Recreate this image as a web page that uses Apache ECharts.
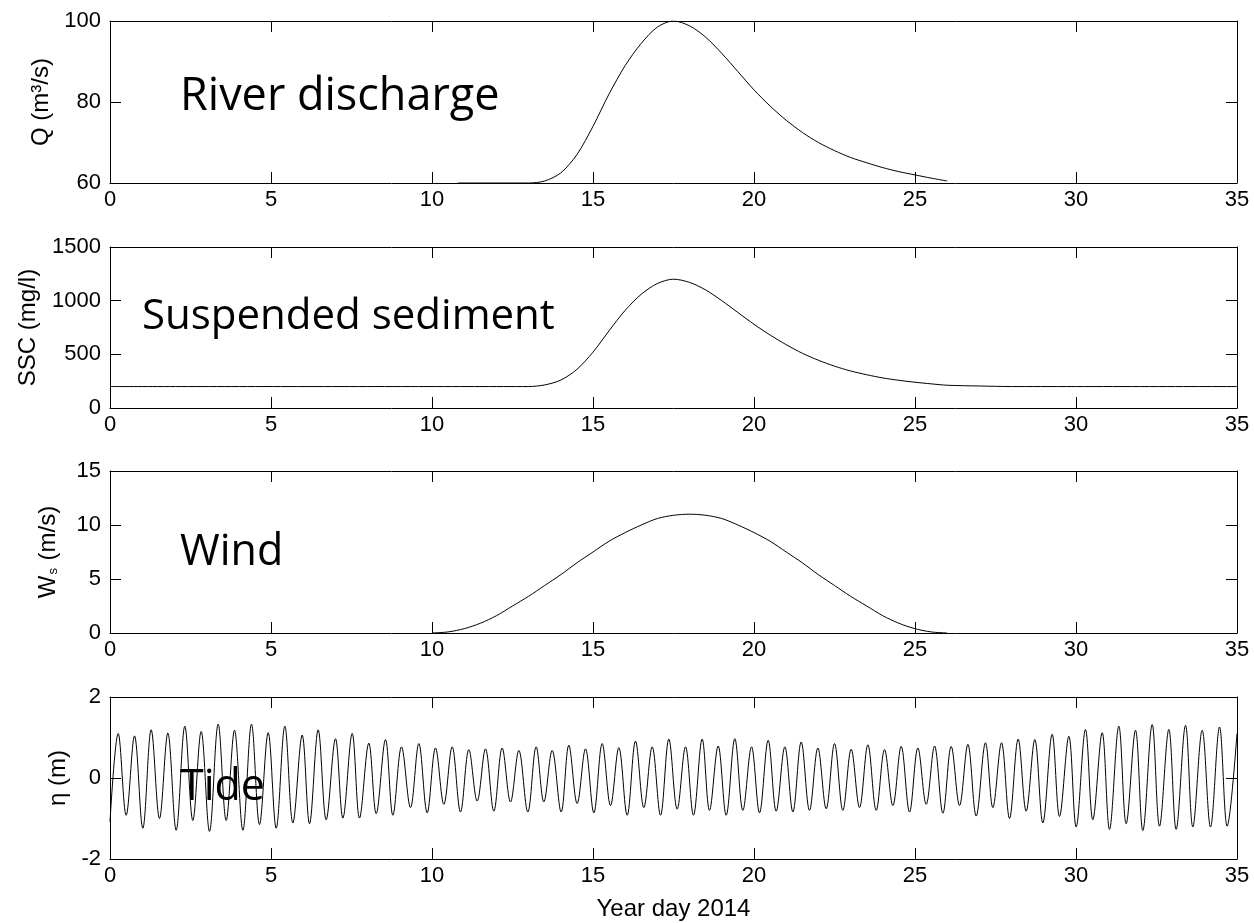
<!DOCTYPE html>
<html>
<head>
<meta charset="utf-8">
<title>Forcing time series</title>
<script src="https://cdn.jsdelivr.net/npm/echarts@6.0.0/dist/echarts.min.js"></script>
<style>
  html, body { margin: 0; padding: 0; background: #fff; }
  #main { width: 1254px; height: 923px; }
</style>
</head>
<body>
<div id="main"></div>
<script>
// ---- data (x = year day 2014) ----
var qDays = [10.8, 11.5, 12, 12.5, 13, 13.5, 14, 14.5, 15, 15.5, 16, 16.5, 17, 17.5, 18, 18.5, 19, 19.5, 20, 20.5, 21, 21.5, 22, 22.5, 23, 23.5, 24, 24.5, 25, 25.5, 26];
var qVals = [60, 60, 60, 60, 60, 60.5, 62.5, 67, 74, 82, 89, 94.5, 98.5, 100, 98.8, 96, 92, 87.5, 83, 79, 75.5, 72.5, 70, 68, 66.3, 65, 63.8, 62.8, 62, 61.2, 60.5];

var sscDays = [0, 13, 13.5, 14, 14.5, 15, 15.5, 16, 16.5, 17, 17.5, 18, 18.5, 19, 19.5, 20, 20.5, 21, 21.5, 22, 22.5, 23, 23.5, 24, 24.5, 25, 25.5, 26, 27, 28, 35];
var sscVals = [200, 200, 215, 260, 360, 520, 720, 910, 1060, 1160, 1200, 1170, 1100, 1000, 890, 780, 680, 590, 510, 445, 390, 345, 310, 280, 258, 240, 225, 212, 205, 200, 200];

var windDays = [10, 10.5, 11, 11.5, 12, 12.5, 13, 13.5, 14, 14.5, 15, 15.5, 16, 16.5, 17, 17.5, 18, 18.5, 19, 19.5, 20, 20.5, 21, 21.5, 22, 22.5, 23, 23.5, 24, 24.5, 25, 25.5, 26];
var windVals = [0, 0.1, 0.4, 0.9, 1.6, 2.5, 3.4, 4.4, 5.4, 6.5, 7.5, 8.5, 9.3, 10.0, 10.6, 10.9, 11, 10.9, 10.6, 10.0, 9.3, 8.5, 7.5, 6.5, 5.4, 4.4, 3.4, 2.5, 1.6, 0.9, 0.4, 0.1, 0];

// tide: successive highs and lows
var tideDays = [0, 0.254, 0.502, 0.761, 1.019, 1.279, 1.537, 1.796, 2.055, 2.324, 2.572, 2.831, 3.090, 3.359, 3.608, 3.866, 4.126, 4.394, 4.643, 4.912,
  5.161, 5.430, 5.679, 5.968, 6.196, 6.465, 6.714, 7.003, 7.232, 7.521, 7.749, 8.038, 8.267, 8.556, 8.785,
  9.053, 9.332, 9.591, 9.850, 10.109, 10.368, 10.626, 10.885, 11.144, 11.403, 11.661, 11.920, 12.179, 12.438, 12.697, 12.976,
  13.235, 13.473, 13.732, 14.011, 14.249, 14.508, 14.767, 15.026, 15.285, 15.544, 15.802, 16.061, 16.320, 16.579, 16.838, 17.097,
  17.355, 17.614, 17.873, 18.12, 18.390, 18.618, 18.887, 19.136, 19.405, 19.654, 19.923, 20.171, 20.440, 20.689, 20.958, 21.207,
  21.465, 21.724, 21.983, 22.242, 22.501, 22.760, 23.018, 23.277, 23.536, 23.795, 24.054, 24.313, 24.571, 24.830, 25.089, 25.348,
  25.607, 25.866, 26.124, 26.383, 26.642, 26.90, 27.189, 27.417, 27.686, 27.935, 28.204, 28.452, 28.721, 28.970, 29.260, 29.487,
  29.778, 30.005, 30.295, 30.522, 30.813, 31.040, 31.330, 31.558, 31.848, 32.075, 32.366, 32.593, 32.883, 33.110, 33.401, 33.628,
  33.919, 34.177, 34.457, 34.694, 35];
var tideVals = [-1.08, 1.10, -0.92, 1.04, -1.24, 1.19, -1.00, 1.11, -1.29, 1.28, -1.05, 1.15, -1.32, 1.33, -1.05, 1.18, -1.29, 1.33, -1.15, 1.12,
  -1.24, 1.28, -1.11, 1.06, -1.13, 1.19, -1.03, 0.97, -0.99, 1.10, -0.99, 0.86, -0.88, 0.95, -0.92,
  0.77, -0.73, 0.85, -0.86, 0.74, -0.65, 0.77, -0.84, 0.70, -0.57, 0.72, -0.82, 0.74, -0.59, 0.68, -0.84,
  0.77, -0.59, 0.68, -0.84, 0.81, -0.63, 0.72, -0.86, 0.85, -0.68, 0.75, -0.92, 0.91, -0.73, 0.77, -0.92,
  0.96, -0.77, 0.77, -0.92, 0.96, -0.80, 0.79, -0.92, 0.97, -0.80, 0.77, -0.86, 0.93, -0.82, 0.77, -0.84,
  0.89, -0.80, 0.74, -0.76, 0.85, -0.80, 0.71, -0.73, 0.82, -0.80, 0.70, -0.68, 0.78, -0.84, 0.74, -0.65,
  0.79, -0.87, 0.78, -0.68, 0.83, -0.94, 0.87, -0.73, 0.87, -1.00, 0.96, -0.82, 0.95, -1.11, 1.08, -0.95,
  1.03, -1.21, 1.20, -1.03, 1.12, -1.27, 1.28, -1.13, 1.18, -1.30, 1.32, -1.19, 1.20, -1.27, 1.30, -1.21,
  1.18, -1.21, 1.26, -1.19, 1.10];

// axis limits [min, max, step]
var xLim = [0, 35, 5];
var qLim = [60, 100, 20];
var sscLim = [0, 1500, 500];
var windLim = [0, 15, 5];
var tideLim = [-2, 2, 2];

var labels = ['River discharge', 'Suspended sediment', 'Wind', 'Tide'];

function pairs(xs, ys) {
  return xs.map(function (x, i) { return [x, ys[i]]; });
}

var chart = echarts.init(document.getElementById('main'));

var font = 'Liberation Sans';
var tickFont = 22;
var nameFont = 24;
var panels = [
  { top: 21, height: 162, lim: qLim, name: 'Q (m³/s)', gap: 57, data: pairs(qDays, qVals), smooth: 0.3 },
  { top: 247, height: 161, lim: sscLim, name: 'SSC (mg/l)', gap: 70, data: pairs(sscDays, sscVals), smooth: 0.3 },
  { top: 471, height: 162, lim: windLim, name: '{n|W}{s|s}{n| (m/s)}', gap: 50, data: pairs(windDays, windVals), smooth: 0.3 },
  { top: 697, height: 162, lim: tideLim, name: 'η (m)', gap: 36, data: pairs(tideDays, tideVals), smooth: 0.36 }
];

var grid = [], xAxis = [], yAxis = [], series = [];
var lineStyle = { color: '#000', width: 1 };
var tick = { inside: true, length: 11, lineStyle: { color: '#000', width: 1 } };
var plain = function (v) { return String(v); };

panels.forEach(function (p, i) {
  grid.push({ left: 110, right: 17, top: p.top, height: p.height });
  // bottom / left axes carry the labels
  xAxis.push({
    type: 'value', gridIndex: i, position: 'bottom',
    min: xLim[0], max: xLim[1], interval: xLim[2],
    axisLine: { onZero: false, lineStyle: lineStyle },
    axisTick: tick, splitLine: { show: false },
    axisLabel: { color: '#000', fontFamily: font, fontSize: tickFont, margin: 6, formatter: plain },
    name: i === 3 ? 'Year day 2014' : '',
    nameLocation: 'middle', nameGap: 38,
    nameTextStyle: { color: '#000', fontFamily: font, fontSize: nameFont }
  });
  // top axis just closes the box
  xAxis.push({
    type: 'value', gridIndex: i, position: 'top',
    min: xLim[0], max: xLim[1], interval: xLim[2],
    axisLine: { onZero: false, lineStyle: lineStyle },
    axisTick: tick, axisLabel: { show: false }, splitLine: { show: false }
  });
  yAxis.push({
    type: 'value', gridIndex: i, position: 'left',
    min: p.lim[0], max: p.lim[1], interval: p.lim[2],
    axisLine: { onZero: false, lineStyle: lineStyle },
    axisTick: tick, splitLine: { show: false },
    axisLabel: { color: '#000', fontFamily: font, fontSize: tickFont, margin: 9, formatter: plain },
    name: p.name, nameLocation: 'middle', nameGap: p.gap, nameRotate: 90,
    nameTextStyle: {
      color: '#000', fontFamily: font, fontSize: nameFont,
      rich: {
        n: { fontFamily: font, fontSize: nameFont, color: '#000' },
        s: { fontFamily: font, fontSize: 13, color: '#000', verticalAlign: 'bottom', padding: [9, 1, 0, 1] }
      }
    }
  });
  yAxis.push({
    type: 'value', gridIndex: i, position: 'right',
    min: p.lim[0], max: p.lim[1], interval: p.lim[2],
    axisLine: { onZero: false, lineStyle: lineStyle },
    axisTick: tick, axisLabel: { show: false }, splitLine: { show: false }
  });
  series.push({
    type: 'line', xAxisIndex: i * 2, yAxisIndex: i * 2,
    data: p.data, showSymbol: false, smooth: p.smooth,
    lineStyle: { color: '#000', width: 1 }, clip: true, silent: true
  });
});

var labelPos = [[180, 97], [142, 317], [180, 553], [180, 788]];
var labelSize = [45, 42, 43, 43];
var graphic = labels.map(function (t, i) {
  return {
    type: 'text', x: labelPos[i][0], y: labelPos[i][1], z: 100,
    style: { text: t, font: labelSize[i] + 'px "Open Sans"', fill: '#000', verticalAlign: 'middle', align: 'left' }
  };
});

chart.setOption({
  backgroundColor: '#fff',
  animation: false,
  grid: grid,
  xAxis: xAxis,
  yAxis: yAxis,
  series: series,
  graphic: graphic
});
</script>
</body>
</html>
